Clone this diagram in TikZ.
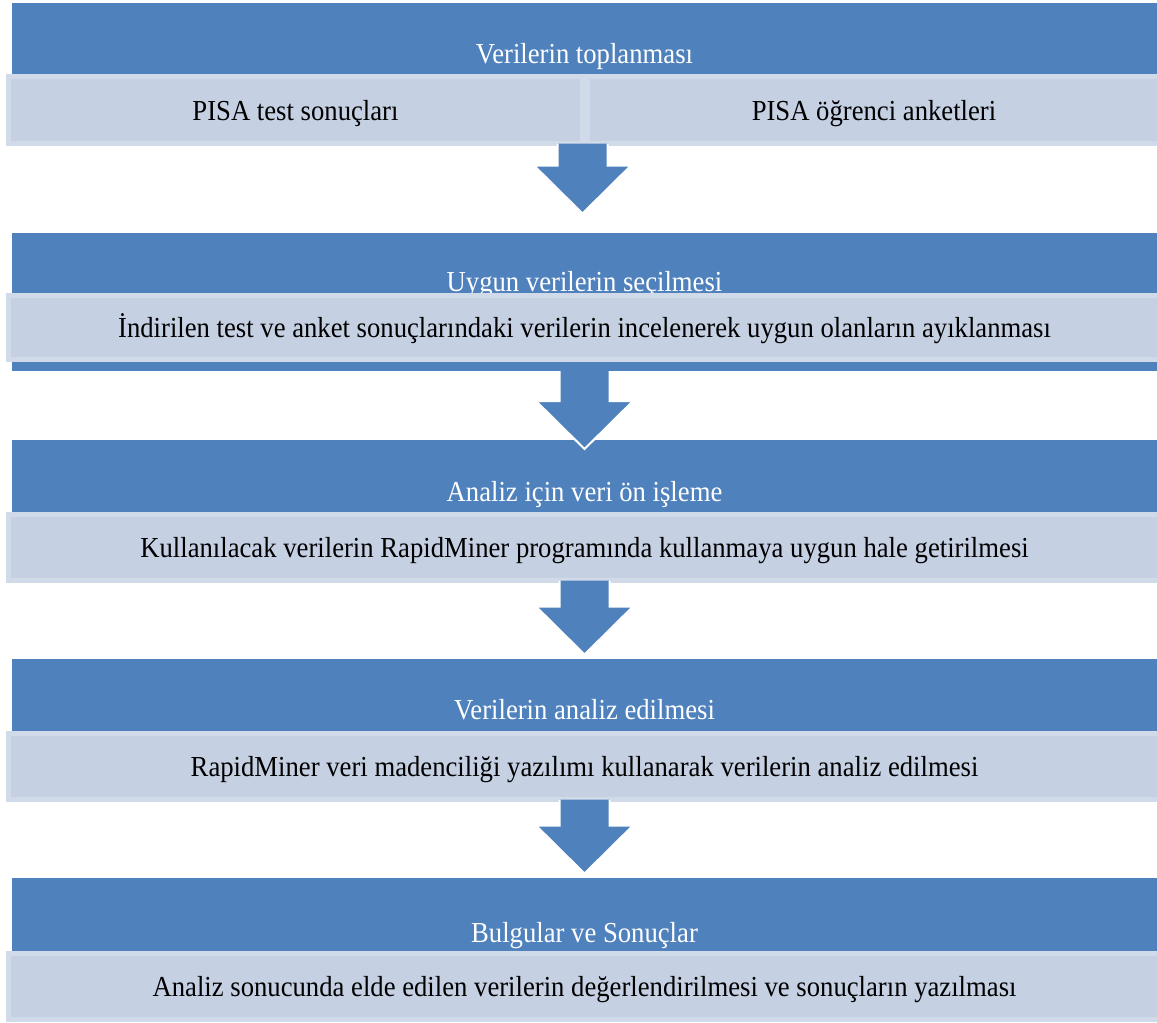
\documentclass[tikz,border=0pt]{standalone}
\usepackage{fontspec}
\setmainfont{Liberation Serif}[FakeStretch=0.92]
\usepackage{xcolor}
\definecolor{stageblue}{RGB}{79,129,189}
\definecolor{detailfill}{RGB}{197,208,227}
\definecolor{detailedge}{RGB}{209,218,233}
\usepackage{tikz}
\usetikzlibrary{calc}
\newcommand{\stagefont}{\fontsize{29}{34}\selectfont}
\newcommand{\flowarrow}[2]{%
    \filldraw[flow] ($(#1)+(-25,0)$) -- ++(0,-#2) -- ++(-23.5,0) -- ++(48.5,-48) -- ++(48.5,48) -- ++(-23.5,0) -- ++(0,#2);
}
\tikzset{
    common/.style={anchor=north west, rectangle, inner sep=0pt, outer sep=0pt},
    stage/.style={common, fill=stageblue, minimum width=1145pt},
    detail/.style={common, fill=detailfill, draw=detailedge, line width=5pt, font=\stagefont, text height=20pt, text depth=0pt},
    wide/.style={detail, minimum width=1152pt, minimum height=66pt},
    heading/.style={anchor=base, text=white, font=\stagefont},
    flow/.style={fill=stageblue, draw=white, line width=2pt}
}
\begin{document}
\begin{tikzpicture}[x=1pt,y=1pt]
    \useasboundingbox (0,0) rectangle (1157,-1023);
    \node[stage, minimum height=71pt] (d1) at (12,-3) {};
    \node[heading] (t1) at ([yshift=11pt]d1.south) {Verilerin toplanması};
    \node[detail, minimum width=574pt, minimum height=67pt] (l1a) at (8.5,-76.5) {PISA test sonuçları};
    \node[detail, minimum width=573pt, minimum height=67pt] (l1b) at (587.5,-76.5) {PISA öğrenci anketleri};

    \node[stage, minimum height=138pt] (d2) at (12,-233) {};
    \node[heading] (t2) at ([yshift=-58pt]d2.north) {Uygun verilerin seçilmesi};
    \node[wide, minimum height=64pt] (l2) at (8.5,-295.5) {İndirilen test ve anket sonuçlarındaki verilerin incelenerek uygun olanların ayıklanması};

    \node[stage, minimum height=72pt] (d3) at (12,-440) {};
    \node[heading] (t3) at ([yshift=11pt]d3.south) {Analiz için veri ön işleme};
    \node[wide] (l3) at (8.5,-514.5) {Kullanılacak verilerin RapidMiner programında kullanmaya uygun hale getirilmesi};

    \node[stage, minimum height=72pt] (d4) at (12,-659) {};
    \node[heading] (t4) at ([yshift=12pt]d4.south) {Verilerin analiz edilmesi};
    \node[wide] (l4) at (8.5,-733.5) {RapidMiner veri madenciliği yazılımı kullanarak verilerin analiz edilmesi};

    \node[stage, minimum height=73pt] (d5) at (12,-878) {};
    \node[heading] (t5) at ([yshift=9pt]d5.south) {Bulgular ve Sonuçlar};
    \node[wide] (l5) at (8.5,-953.5) {Analiz sonucunda elde edilen verilerin değerlendirilmesi ve sonuçların yazılması};

    \flowarrow{l1a.south east}{22}
    \flowarrow{d2.south}{30}
    \flowarrow{l3.south}{26}
    \flowarrow{l4.south}{26}
\end{tikzpicture}
\end{document}
